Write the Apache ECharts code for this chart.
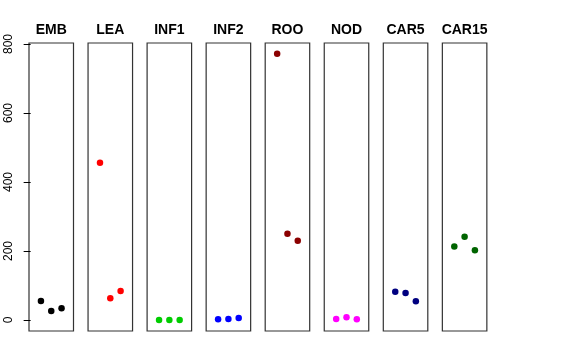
<!DOCTYPE html>
<html><head><meta charset="utf-8">
<script src="https://cdn.jsdelivr.net/npm/echarts@6/dist/echarts.min.js"></script>
<style>html,body{margin:0;padding:0;background:#fff}#c{width:576px;height:360px}</style>
</head><body><div id="c"></div>
<script>
const categories = ['EMB','LEA','INF1','INF2','ROO','NOD','CAR5','CAR15'];
const colors = ['#000000','#FF0000','#00CD00','#0000FF','#8B0000','#FF00FF','#000080','#006400'];
const EMB = [55, 26, 34];
const LEA = [456, 63, 84];
const INF1 = [0, 0, 0];
const INF2 = [2, 3, 6];
const ROO = [772, 250, 230];
const NOD = [3, 8, 2];
const CAR5 = [82, 78, 54];
const CAR15 = [213, 241, 202];
const seriesValues = [EMB, LEA, INF1, INF2, ROO, NOD, CAR5, CAR15];
const yTicks = [0, 200, 400, 600, 800];
const xPos = [1, 2, 3];

(function () {
  const grids = [], xAxes = [], yAxes = [], series = [], graphics = [];
  const left0 = 29, step = 59.05, w = 44.5, gTop = 43, gH = 288;
  categories.forEach((name, i) => {
    const L = left0 + i * step;
    grids.push({left: L, top: gTop, width: w, height: gH, show: true, borderColor: '#333', borderWidth: 1.2,
      backgroundColor: 'transparent', containLabel: false, outerBoundsMode: 'none'});
    xAxes.push({type: 'value', gridIndex: i, min: -0.16, max: 4.16, show: false});
    yAxes.push({type: 'value', gridIndex: i, min: -32, max: 803, show: i === 0,
      splitLine: {show: false}, axisLine: {show: false},
      axisTick: {show: i === 0, length: 7, inside: false, customValues: yTicks, lineStyle: {color: '#000'}},
      axisLabel: {show: i === 0, customValues: yTicks, rotate: 90, margin: 14, color: '#000',
        fontSize: 12, fontFamily: 'Liberation Sans, Arial, sans-serif'}});
    series.push({type: 'scatter', xAxisIndex: i, yAxisIndex: i, symbol: 'circle', symbolSize: 6.5,
      itemStyle: {color: colors[i], opacity: 1}, silent: true,
      data: seriesValues[i].map((v, j) => [xPos[j], v])});
    graphics.push({type: 'text', x: L + w / 2, y: 30.5,
      style: {text: name, textAlign: 'center', textVerticalAlign: 'middle', fill: '#000',
        font: 'bold 14px "Liberation Sans", Arial, sans-serif'}});
  });

  const chart = echarts.init(document.getElementById('c'), null, {renderer: 'canvas'});
  chart.setOption({animation: false, backgroundColor: '#fff', grid: grids, xAxis: xAxes, yAxis: yAxes,
    series: series, graphic: graphics});
})();
</script></body></html>
